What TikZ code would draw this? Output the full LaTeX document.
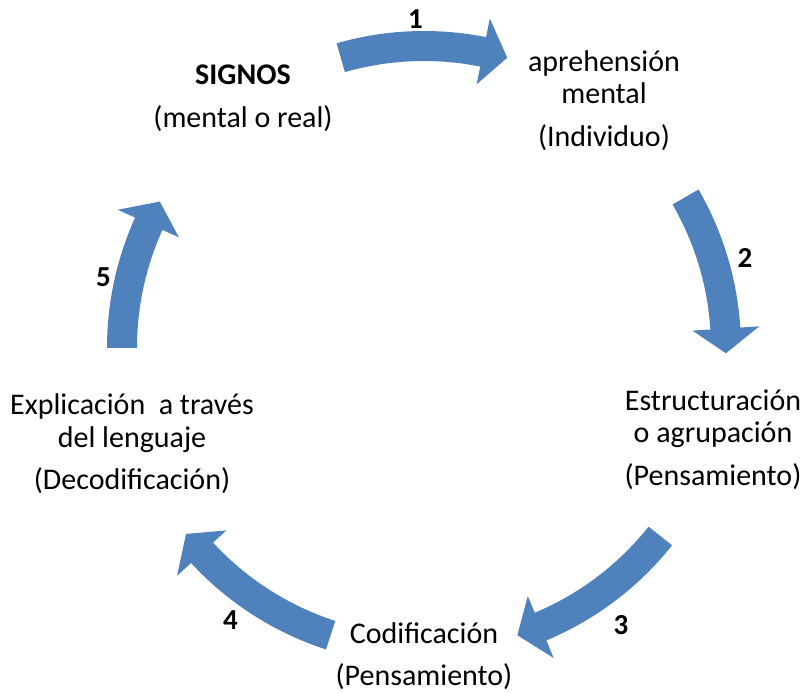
\documentclass[tikz,border=0pt]{standalone}
\usepackage{fontspec}
\setmainfont{Carlito}
\definecolor{cycleblue}{RGB}{79,129,189}
\tikzset{
  stagetext/.style={align=center, anchor=base, inner sep=0pt,
    font=\fontsize{30}{32}\selectfont},
  stepnum/.style={font=\fontsize{29}{32}\selectfont\bfseries, inner sep=0pt},
  cyclearrow/.style={fill=cycleblue, draw=none}
}
\begin{document}
\begin{tikzpicture}[x=1pt, y=1pt]
\useasboundingbox (-424,-345) rectangle (382,348);
\coordinate (c) at (0,0);
\foreach \a/\b in {106/74,30/-1,-38.5/-72,252/218,180/151}
  \fill[cyclearrow] (\a:317) arc[start angle=\a, end angle={\b+4.7}, radius=317]
    -- ({\b+4.7}:336) -- (\b:302) -- ({\b+4.7}:269) -- ({\b+4.7}:287)
    arc[start angle={\b+4.7}, end angle=\a, radius=287] -- cycle;
\node [stagetext] (signos) at (-181,220) {\textbf{SIGNOS}\\[11pt](mental o real)};
\node [stagetext] (aprehension) at (180,201) {aprehensión\\mental\\[11pt](Individuo)};
\node [stagetext] (estructura) at (289,-137) {Estructuración\\o agrupación\\[11pt](Pensamiento)};
\node [stagetext] (codifica) at (0,-337) {Codificación\\[10pt](Pensamiento)};
\node [stagetext] (explica) at (-292,-142) {Explicación\ \ a través\\del lenguaje\\[11pt](Decodificación)};
\foreach \n/\p in {1/{(-8.5,329)},2/{(321,90)},3/{(197,-277)},4/{(-193.5,-272)},5/{(-320.5,70.5)}}
  \node [stepnum] (n\n) at \p {\n};
\end{tikzpicture}
\end{document}
